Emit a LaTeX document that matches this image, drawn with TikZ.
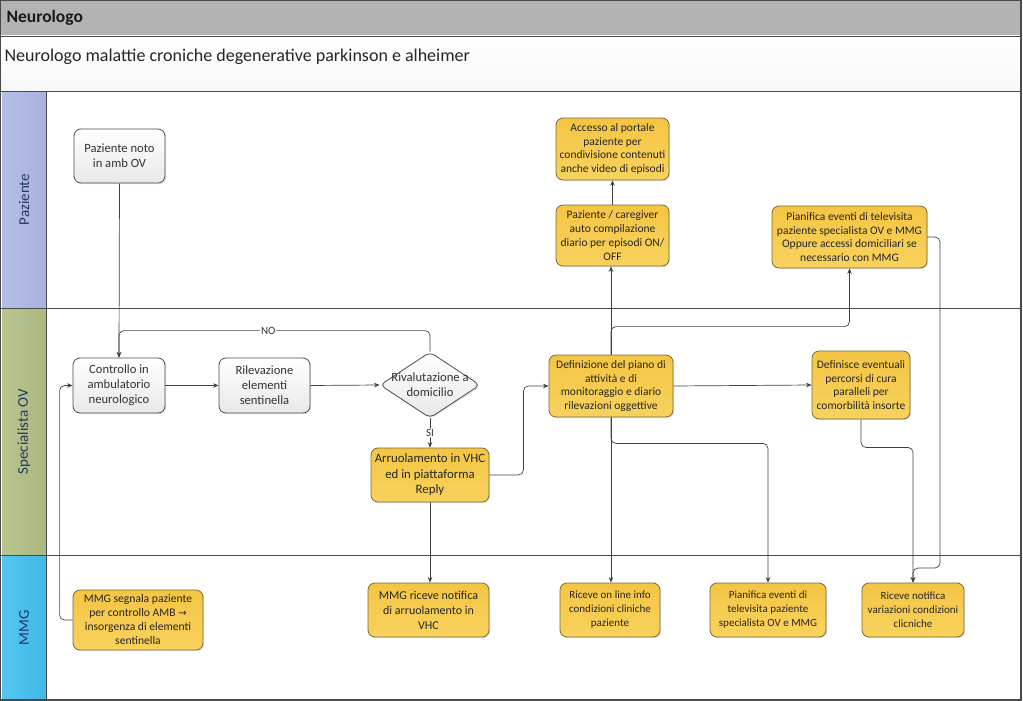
\documentclass[tikz,border=0pt]{standalone}
\usepackage{fontspec}
\setmainfont{Carlito}
\newfontfamily\dejavu{DejaVu Sans}
\usetikzlibrary{shapes.geometric,arrows.meta,shadows}
\definecolor{hdrgray}{HTML}{B3B3B3}
\definecolor{pazcol}{HTML}{B5BEE5}
\definecolor{pazcolB}{HTML}{A8B2DE}
\definecolor{speccol}{HTML}{B9C48F}
\definecolor{speccolB}{HTML}{ABB87F}
\definecolor{mmgcol}{HTML}{55C6F0}
\definecolor{mmgcolB}{HTML}{3FB8E8}
\definecolor{lanetxt}{HTML}{1F3A66}
\definecolor{yTop}{HTML}{F4C543}
\definecolor{yBot}{HTML}{F8D25E}
\definecolor{yBord}{HTML}{7A6A3A}
\definecolor{edgecol}{HTML}{404040}
\definecolor{framecol}{HTML}{4A4A4A}
\pgfdeclarelayer{bg}
\pgfdeclarelayer{edges}
\pgfsetlayers{bg,edges,main}
\begin{document}
\begin{tikzpicture}[x=1pt,y=-1pt,
  box/.style={rounded corners=7pt, line width=0.8pt, align=center, inner sep=2pt,
    drop shadow={opacity=0.22, shadow xshift=1.2pt, shadow yshift=-1.2pt}},
  wbox/.style={box, top color=white, bottom color=black!9, draw=black!70,
    font=\fontsize{12.6}{15}\selectfont, text=black!80},
  ybox/.style={box, top color=yTop, bottom color=yBot, draw=yBord,
    font=\fontsize{11.5}{13.8}\selectfont, text=black!85},
  mbox/.style={ybox, font=\fontsize{11}{14}\selectfont},
  decbox/.style={diamond, draw=black!70, line width=0.8pt, rounded corners=5pt,
    top color=white, bottom color=black!9, minimum width=100pt, minimum height=66pt,
    inner sep=0pt, drop shadow={opacity=0.22, shadow xshift=1.2pt, shadow yshift=-1.2pt}},
  conn/.style={draw=edgecol, line width=0.7pt, rounded corners=5pt,
    -{Stealth[length=5.5pt,width=4.5pt]}},
  lbl/.style={fill=white, inner sep=1pt, font=\fontsize{11}{13}\selectfont, text=black!80},
  lanelbl/.style={rotate=90, font=\fontsize{15}{18}\selectfont, text=lanetxt}
]
\useasboundingbox (0,0) rectangle (1023,701);

% ---------- background / pool ----------
\begin{pgfonlayer}{bg}
  \fill[hdrgray] (0,0) rectangle (1021,36);
  \shade[top color=white, bottom color=black!3] (0,36) rectangle (1021,91);
  \shade[left color=pazcol, right color=pazcolB] (2,91) rectangle (46,308);
  \shade[left color=speccol, right color=speccolB] (2,308) rectangle (46,555);
  \shade[left color=mmgcol, right color=mmgcolB] (2,555) rectangle (46,700);
  \draw[framecol, line width=0.9pt] (0,36) -- (1021,36);
  \draw[framecol, line width=0.9pt] (0,91) -- (1021,91);
  \draw[framecol, line width=0.9pt] (0,308) -- (1021,308);
  \draw[framecol, line width=0.9pt] (0,555) -- (1021,555);
  \draw[framecol, line width=0.9pt] (46,91) -- (46,700);
  \draw[framecol, line width=1.2pt] (0.6,0.6) rectangle (1021,700);
\end{pgfonlayer}

\node[anchor=west, font=\bfseries\fontsize{17.5}{20}\selectfont, text=black!90] (title) at (3,18) {Neurologo};
\node[anchor=west, font=\fontsize{18}{21}\selectfont, text=black!85] (subtitle) at (1,57) {Neurologo malattie croniche degenerative parkinson e alheimer};

\node[lanelbl] (lpaz) at (24,199.5) {Paziente};
\node[lanelbl] (lspec) at (24,431.5) {Specialista OV};
\node[lanelbl] (lmmg) at (24,627.5) {MMG};

% ---------- Paziente lane ----------
\node[wbox, minimum width=91pt, minimum height=54pt] (pn) at (119.5,156) {Paziente noto\\in amb OV};
\node[ybox, minimum width=113pt, minimum height=62pt] (acc) at (612.5,149) {Accesso al portale\\paziente per\\condivisione contenuti\\anche video di episodi};
\node[ybox, minimum width=113pt, minimum height=61pt] (pc) at (612.5,235.5) {Paziente / caregiver\\auto compilazione\\diario per episodi ON/\\OFF};
\node[ybox, minimum width=155pt, minimum height=62pt] (pe1) at (849.5,237) {Pianifica eventi di televisita\\paziente specialista OV e MMG\\Oppure accessi domiciliari se\\necessario con MMG};

% ---------- Specialista OV lane ----------
\node[wbox, minimum width=92pt, minimum height=55pt] (ctl) at (119,385.5) {Controllo in\\ambulatorio\\neurologico};
\node[wbox, minimum width=91pt, minimum height=55pt] (ril) at (264.5,385.5) {Rilevazione\\elementi\\sentinella};
\node[decbox, label={[align=center, font=\fontsize{12.6}{15}\selectfont, text=black!80]center:Rivalutazione a\\domicilio}] (riv) at (430,385) {};
\node[ybox, minimum width=118pt, minimum height=54pt, font=\fontsize{12.8}{15.5}\selectfont] (arr) at (430,475) {Arruolamento in VHC\\ed in piattaforma\\Reply};
\node[ybox, minimum width=124pt, minimum height=62pt] (def) at (611,386) {Definizione del piano di\\attività e di\\monitoraggio e diario\\rilevazioni oggettive};
\node[ybox, minimum width=98pt, minimum height=68pt] (dfe) at (861,385) {Definisce eventuali\\percorsi di cura\\paralleli per\\comorbilità insorte};

% ---------- MMG lane ----------
\node[mbox, minimum width=130pt, minimum height=60pt, font=\fontsize{11.6}{14}\selectfont] (mseg) at (138,620) {MMG segnala paziente\\per controllo AMB {\dejavu\fontsize{10}{12}\selectfont →}\\insorgenza di elementi\\sentinella};
\node[mbox, minimum width=121pt, minimum height=54pt, font=\fontsize{12}{15}\selectfont] (mrn) at (428.5,610) {MMG riceve notifica\\di arruolamento in\\VHC};
\node[mbox, minimum width=100pt, minimum height=54pt] (rol) at (610,610) {Riceve on line info\\condizioni cliniche\\paziente};
\node[mbox, minimum width=116pt, minimum height=54pt] (pe2) at (768,610) {Pianifica eventi di\\televisita paziente\\specialista OV e MMG};
\node[mbox, minimum width=102pt, minimum height=54pt] (rnv) at (913,610) {Riceve notifica\\variazioni condizioni\\clicniche};

\coordinate (k1) at (940,568);

% ---------- connectors ----------
\begin{pgfonlayer}{edges}
  \draw[conn] (pn.south) -- (ctl.north);
  \draw[conn] (riv.north) -- ++(0,-21) -| node[lbl, pos=0.26] {NO} (ctl.north);
  \draw[conn] (ctl.east) -- (ril.west);
  \draw[conn] (ril.east) -- (riv.west);
  \draw[conn] (riv.south) -- node[lbl] {SI} (arr.north);
  \draw[conn] (arr.east) -- ++(34,0) |- (def.west);
  \draw[conn] (arr.south) -- (arr.south |- mrn.north);
  \draw[conn] (mseg.west) -- ++(-13,0) |- (ctl.west);
  \draw[conn] (def.north) -- (def.north |- pc.south);
  \draw[conn] (def.north) -- ++(0,-28) -| (pe1.south);
  \draw[conn] (pc.north) -- (acc.south);
  \draw[conn] (def.east) -- (dfe.west);
  \draw[conn] (def.south) -- (def.south |- rol.north);
  \draw[conn] (def.south) -- ++(0,26) -| (pe2.north);
  \draw[conn] (dfe.south) -- ++(0,28) -| (rnv.north);
  \draw[conn] (pe1.east) -| (k1) -| (rnv.north);
\end{pgfonlayer}
\end{tikzpicture}
\end{document}
